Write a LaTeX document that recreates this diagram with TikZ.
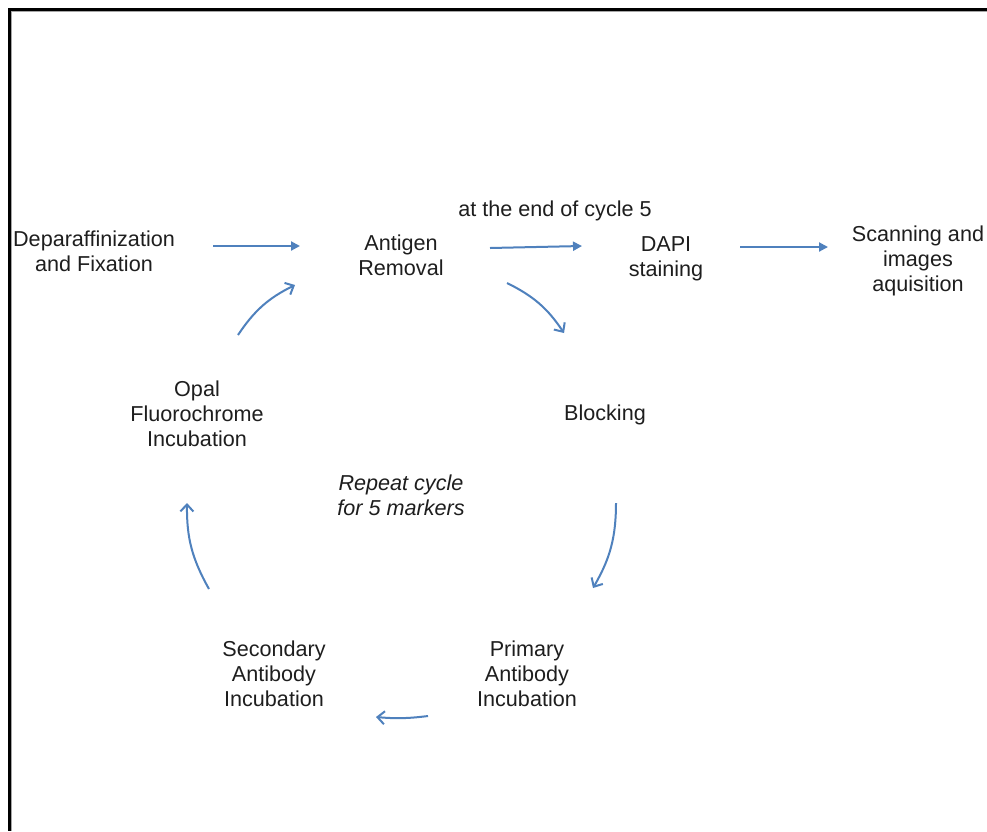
\documentclass[tikz,border=0pt]{standalone}
\usepackage{fontspec}
\setmainfont{Liberation Sans}
\usetikzlibrary{arrows.meta,calc}
\definecolor{arrblue}{HTML}{4F81BD}
\definecolor{txt}{HTML}{1E1E1E}
\tikzset{
  lbl/.style={inner sep=0pt, align=center, text=txt, font=\fontsize{21.6}{25}\selectfont},
  filarr/.style={draw=arrblue, line width=2pt, -{Triangle[length=9pt,width=9pt]}},
  openarr/.style={draw=arrblue, line width=2pt, -{Straight Barb[length=7pt,width=13pt,line width=2pt]}},
  frameline/.style={line width=3pt, black}
}
\begin{document}
\begin{tikzpicture}[x=1pt,y=-1pt]
\useasboundingbox (0,0) rectangle (987,831);
\fill[white] (0,0) rectangle (987,831);
% frame (top and left edges)
\draw[gray!70, line width=1.5pt] (11,11.5) -- (987,11.5);
\draw[gray!70, line width=1.5pt] (11.5,11) -- (11.5,831);
\draw[frameline] (8,9) -- (987,9);
\draw[frameline] (9,8) -- (9,831);

% nodes
\node[lbl] (dep)  at (94,251)  {Deparaffinization\\and Fixation};
\node[lbl] (ant)  at (401,255) {Antigen\\Removal};
\node[lbl] (cyc)  at (555,211) {at the end of cycle 5};
\node[lbl] (dapi) at (666,259) {DAPI\\staining};
\node[lbl] (scan) at (918,261) {Scanning and\\images\\aquisition};
\node[lbl] (blk)  at (605,415) {Blocking};
\node[lbl] (opal) at (197,414) {Opal\\Fluorochrome\\Incubation};
\node[lbl, font=\fontsize{21.6}{25}\selectfont\itshape] (rep) at (401,495) {Repeat cycle\\for 5 markers};
\node[lbl] (sec)  at (274,674) {Secondary\\Antibody\\Incubation};
\node[lbl] (pri)  at (527,674) {Primary\\Antibody\\Incubation};

% straight arrows
\draw[filarr] ($(dep.center)+(119,-5)$) -- ($(ant.center)+(-101,-9)$);
\draw[filarr] ($(ant.center)+(89,-7)$) -- ($(dapi.center)+(-84,-13)$);
\draw[filarr] ($(dapi.center)+(74,-12)$) -- ($(scan.center)+(-90,-14)$);

% cycle arrows
\draw[openarr] ($(ant.center)+(106,28)$) to[bend left=15] ($(blk.center)+(-41,-82)$);
\draw[openarr] ($(blk.center)+(11,88)$) to[bend left=15] ($(pri.center)+(66,-86)$);
\draw[openarr] ($(pri.center)+(-99,42)$) to[bend left=6] ($(sec.center)+(102,43)$);
\draw[openarr] ($(sec.center)+(-65,-85)$) to[bend left=15] ($(opal.center)+(-10,89)$);
\draw[openarr] ($(opal.center)+(41,-79)$) to[bend left=15] ($(ant.center)+(-106,30)$);
\end{tikzpicture}
\end{document}
